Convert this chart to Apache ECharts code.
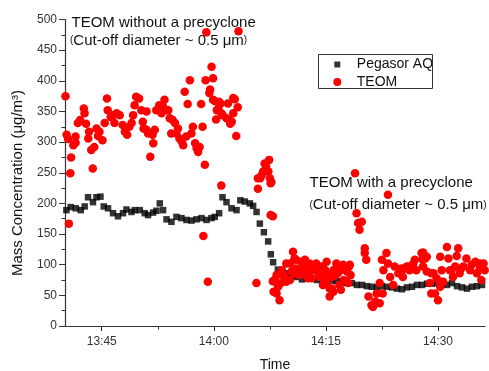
<!DOCTYPE html>
<html>
<head>
<meta charset="utf-8">
<script src="https://cdn.jsdelivr.net/npm/echarts@6/dist/echarts.min.js"></script>
<style>
	html, body { margin: 0; padding: 0; background: #fff; }
	#chart { width: 489px; height: 371px; }
</style>
</head>
<body>
<div id="chart"></div>
<script>
// time = minutes after 13:00
var xTickTimes = [45, 60, 75, 90];
var xTickLabels = ['13:45', '14:00', '14:15', '14:30'];
var xMinorTimes = [52.5, 67.5, 82.5];

// Pegasor AQ
var pegTime = [40.27, 40.85, 41.52, 42.19, 42.72, 43.17, 43.83, 44.29, 44.83, 45.27, 45.84, 46.51, 47.18, 47.85, 48.31, 48.98, 49.42, 50.09, 50.76, 51.20,
	51.87, 52.32, 52.77, 53.21, 53.67, 54.33, 55.00, 55.67, 56.34, 57.01, 57.68, 58.35, 59.02, 59.69, 60.13, 60.71, 61.16, 61.70, 62.37, 63.04,
	63.55, 64.15, 64.82, 65.26, 65.72, 66.16, 66.70, 67.27, 67.63, 67.94, 68.57, 69.11, 69.78, 70.45, 71.12, 71.79, 72.46, 73.13, 73.79, 74.46,
	75.13, 75.80, 76.47, 77.14, 77.81, 78.48, 79.15, 79.82, 80.49, 81.16, 81.83, 82.50, 83.17, 83.84, 84.51, 85.18, 85.85, 86.52, 87.19, 87.86,
	88.53, 89.20, 89.87, 90.54, 91.21, 91.87, 92.54, 93.21, 93.88, 94.55, 95.22, 95.89];
var pegValue = [189, 194, 192, 189, 195, 210, 202, 210, 211, 195, 192, 184, 179, 184, 190, 186, 189, 189, 184, 181,
	185, 188, 200, 189, 174, 170, 178, 176, 173, 172, 174, 176, 173, 176, 178, 184, 210, 202, 192, 189,
	205, 203, 200, 196, 186, 167, 153, 138, 117, 104, 92, 89, 86, 83, 80, 76, 78, 78, 75, 75,
	72, 74, 73, 71, 70, 70, 67, 67, 65, 64, 63, 65, 64, 63, 61, 60, 63, 64, 67, 67,
	69, 69, 70, 69, 67, 70, 65, 63, 61, 64, 65, 67];

// TEOM
var teomTime = [40.15, 40.3, 40.5, 40.6, 40.8, 40.9, 41.2, 41.5, 41.5, 41.8, 42.1, 42.6, 42.7, 42.9, 43.2, 43.3, 43.6, 43.8, 44.0, 44.3,
	44.5, 44.7, 45.1, 45.4, 45.7, 45.8, 46.2, 46.5, 46.7, 47.0, 47.4, 47.8, 48.1, 48.4, 48.7, 49.0, 49.2, 49.4, 49.6, 50.0,
	50.3, 50.5, 50.6, 51.0, 51.0, 51.2, 51.5, 51.8, 51.9, 52.1, 52.3, 52.7, 53.0, 53.2, 53.4, 53.7, 53.9, 54.1, 54.3, 54.5,
	54.8, 55.0, 55.2, 55.4, 55.7, 55.9, 56.1, 56.3, 56.5, 56.8, 57.0, 57.2, 57.5, 57.7, 57.9, 58.1, 58.3, 58.5, 58.6, 58.8,
	58.9, 59.0, 59.2, 59.4, 59.5, 59.7, 59.9, 59.9, 60.1, 60.3, 60.4, 60.6, 60.7, 60.9, 61.0, 61.0, 61.2, 61.7, 61.9, 62.1,
	62.2, 62.4, 62.6, 62.6, 62.8, 63.0, 63.2, 63.3,
	65.7, 65.9, 65.9, 66.2, 66.4, 66.6, 66.8, 67.0, 67.3, 67.4, 67.5, 67.6, 67.7, 67.6, 67.9, 67.9, 68.0, 68.1, 68.2, 68.4,
	68.4, 68.6, 68.8, 69.0, 69.1, 69.3, 69.5, 69.7, 69.7, 70.2, 70.2, 70.4, 70.6, 70.8, 70.8, 71.0, 71.0, 71.5, 71.5, 71.7,
	72.0, 72.2, 72.2, 72.4, 72.6, 72.8, 73.1, 73.1, 73.3, 73.5, 73.7, 74.0, 74.2, 74.2, 74.6, 74.6, 74.6, 74.9, 75.1, 75.1,
	75.3, 75.5, 75.5, 75.8, 75.8, 76.0, 76.0, 76.3, 76.4, 76.6, 76.8, 76.9, 77.0, 77.1, 77.3, 77.4, 77.8, 78.0, 78.1, 78.2,
	78.3, 78.9, 79.1, 79.3, 79.5, 79.8, 80.2, 80.2, 80.4, 80.7, 81.1, 81.3, 81.6, 81.8, 82.2, 82.2, 82.5, 82.6, 82.7, 83.1,
	83.3, 83.3, 83.6, 84.0, 84.2, 84.7, 85.1, 85.2, 85.3, 85.8, 86.1, 86.2, 86.7, 86.9, 87.1, 87.8, 87.9, 88.0, 88.0, 88.3,
	88.5, 88.5, 88.9, 89.1, 89.1, 89.4, 89.6, 89.8, 90.0, 90.3, 90.3, 90.3, 90.5, 90.7, 91.2, 91.4, 91.6, 91.8, 92.0, 92.3,
	92.5, 92.7, 92.9, 93.1, 93.4, 93.8, 94.3, 94.5, 95.0, 95.2, 95.6, 95.6, 95.8, 96.1, 96.25];
var teomValue = [375, 312, 305, 167, 249, 275, 295, 299, 309, 331, 336, 355, 347, 330, 306, 317, 287, 257, 292, 322,
	310, 317, 303, 331, 371, 352, 341, 344, 331, 347, 344, 328, 317, 312, 325, 331, 344, 360, 374, 371,
	352, 333, 322, 350, 320, 314, 276, 312, 298, 320, 352, 360, 347, 358, 369, 352, 352, 339, 314, 336,
	331, 314, 322, 306, 301, 295, 382, 309, 362, 401, 314, 325, 298, 290, 284, 292, 362, 325, 147, 263,
	401, 479, 72, 380, 386, 423, 404, 369, 367, 337, 352, 355, 366, 363, 347, 229, 344, 339, 363, 336,
	330, 333, 347, 372, 370, 310, 357, 481,
	70, 224, 241, 241, 246, 252, 265, 260, 252, 271, 241, 233, 235, 181, 179, 73, 56, 75, 72, 53,
	83, 64, 42, 70, 91, 83, 80, 72, 102, 102, 75, 89, 121, 110, 86, 94, 108, 83, 91, 105,
	97, 108, 86, 89, 78, 102, 78, 91, 94, 100, 102, 86, 97, 80, 80, 97, 67, 91, 70, 105,
	83, 48, 61, 61, 80, 91, 56, 83, 102, 86, 67, 91, 59, 97, 100, 75, 89, 70, 97, 100,
	83, 249, 184, 168, 157, 170, 127, 119, 108, 48, 34, 31, 40, 53, 70, 37, 108, 53, 91, 119,
	214, 102, 80, 67, 97, 86, 94, 91, 80, 97, 97, 91, 102, 108, 91, 119, 109, 97, 120, 110,
	89, 113, 70, 53, 86, 86, 53, 78, 42, 64, 113, 72, 91, 72, 129, 110, 91, 91, 80, 97,
	114, 127, 86, 94, 97, 110, 91, 100, 105, 86, 94, 102, 75, 102, 91];

function pairs(xs, ys){
	var out = [];
	for(var i=0;i<xs.length;i++){
		out.push([xs[i], ys[i]]);
	}
	return out;
}

var font = 'Arial, "Liberation Sans", sans-serif';
var axisColor = '#333';

var myChart = echarts.init(document.getElementById('chart'), null, {renderer: 'canvas'});
var option = {
	animation: false,
	textStyle: {fontFamily: font},
	grid: {left: 65, right: 4, top: 19.5, bottom: 45, outerBoundsMode: 'none', containLabel: false},
	legend: [
		{
			data: [{name: 'Pegasor AQ', icon: 'rect'}],
			left: 334.3, top: 57.5,
			align: 'left',
			padding: 0,
			itemWidth: 6, itemHeight: 6,
			textStyle: {fontSize: 14, color: '#111', fontFamily: font, padding: [0, 0, 0, 11.5]}
		},
		{
			data: [{name: 'TEOM', icon: 'circle'}],
			left: 333.3, top: 75,
			align: 'left',
			padding: 0,
			itemWidth: 8, itemHeight: 8,
			textStyle: {fontSize: 14, color: '#111', fontFamily: font, padding: [0, 0, 0, 10.5]}
		}
	],
	xAxis: [
		{
			type: 'value',
			min: 40.085, max: 96.29,
			name: 'Time',
			nameLocation: 'middle',
			nameGap: 32,
			nameTextStyle: {fontSize: 14, color: '#111'},
			axisLine: {lineStyle: {color: axisColor, width: 1.2}},
			axisTick: {customValues: xTickTimes, length: 5, lineStyle: {color: axisColor}},
			axisLabel: {
				customValues: xTickTimes,
				margin: 10,
				fontSize: 12,
				color: '#333',
				formatter: function(v){
					var i = xTickTimes.indexOf(v);
					return i >= 0 ? xTickLabels[i] : '';
				}
			},
			splitLine: {show: false}
		},
		{
			type: 'value',
			position: 'bottom',
			min: 40.085, max: 96.29,
			axisLine: {show: false},
			axisTick: {customValues: xMinorTimes, length: 3.5, lineStyle: {color: axisColor}},
			axisLabel: {show: false},
			splitLine: {show: false}
		}
	],
	yAxis: {
		type: 'value',
		min: 0, max: 500, interval: 50,
		axisLine: {show: true, lineStyle: {color: axisColor, width: 1.2}},
		axisTick: {show: true, length: 6, lineStyle: {color: axisColor}},
		minorTick: {show: true, splitNumber: 2, length: 3.5, lineStyle: {color: axisColor}},
		axisLabel: {fontSize: 12, color: '#333', margin: 8},
		splitLine: {show: false}
	},
	graphic: [
		{
			type: 'rect',
			shape: {x: 318.5, y: 54.5, width: 114, height: 34},
			style: {fill: 'none', stroke: '#333', lineWidth: 1},
			z: 100
		},
		{
			type: 'text',
			x: 18, y: 183,
			rotation: Math.PI / 2,
			style: {text: 'Mass Concentration (μg/m³)', font: '15px ' + font, fill: '#111', align: 'center', verticalAlign: 'middle'}
		},
		{
			type: 'text',
			x: 71.5, y: 23,
			style: {text: 'TEOM without a precyclone', font: '15px ' + font, fill: '#111', verticalAlign: 'middle'}
		},
		{
			type: 'text',
			x: 70, y: 40.5,
			style: {
				text: '{p|(}Cut-off diameter ~ 0.5 μm{p|)}',
				font: '15px ' + font, fill: '#111', verticalAlign: 'middle',
				rich: {p: {fontSize: 10, fill: '#111'}}
			}
		},
		{
			type: 'text',
			x: 309.5, y: 183,
			style: {text: 'TEOM with a precyclone', font: '15px ' + font, fill: '#111', verticalAlign: 'middle'}
		},
		{
			type: 'text',
			x: 309.5, y: 205,
			style: {
				text: '{p|(}Cut-off diameter ~ 0.5 μm{p|)}',
				font: '15px ' + font, fill: '#111', verticalAlign: 'middle',
				rich: {p: {fontSize: 10, fill: '#111'}}
			}
		}
	],
	series: [
		{
			name: 'Pegasor AQ',
			type: 'scatter',
			symbol: 'square',
			symbolSize: 6.5,
			itemStyle: {color: '#000'},
			data: pairs(pegTime, pegValue)
		},
		{
			name: 'TEOM',
			type: 'scatter',
			symbol: 'circle',
			symbolSize: 8.5,
			itemStyle: {color: '#ff0000', opacity: 1},
			data: pairs(teomTime, teomValue)
		}
	]
};
myChart.setOption(option);
</script>
</body>
</html>
